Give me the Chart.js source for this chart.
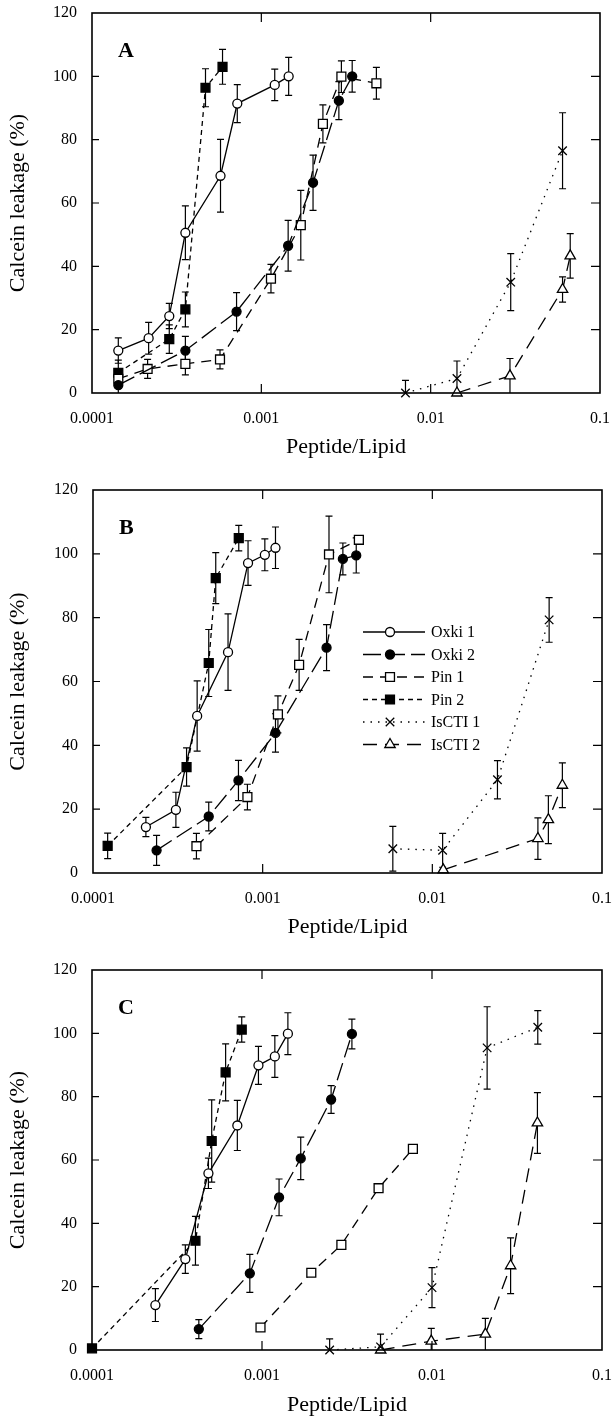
<!DOCTYPE html>
<html>
<head>
<meta charset="utf-8">
<title>Calcein leakage</title>
<script src="https://cdn.jsdelivr.net/npm/chart.js@4.4.1/dist/chart.umd.min.js"></script>
<style>
  body { margin: 0; background: #fff; }
  .panel { position: absolute; left: 0; width: 613px; }
</style>
</head>
<body>
<div class="panel" style="top:0px;height:470px"><canvas id="chartA"></canvas></div>
<div class="panel" style="top:470px;height:480px"><canvas id="chartB"></canvas></div>
<div class="panel" style="top:950px;height:470px"><canvas id="chartC"></canvas></div>
<script>
  const seriesNames = ['Oxki 1', 'Oxki 2', 'Pin 1', 'Pin 2', 'IsCTI 1', 'IsCTI 2'];
  const xTickValues = [0.0001, 0.001, 0.01, 0.1];
  const xTickLabels = ['0.0001', '0.001', '0.01', '0.1'];
  const yInnerTicks = [20, 40, 60, 80, 100];

  // panel A
  const aOxki1X = [0.000143, 0.000216, 0.000286, 0.000356, 0.000574, 0.000721, 0.0012, 0.00145];
  const aOxki1Y = [13.4, 17.3, 24.3, 50.6, 68.6, 91.4, 97.3, 100];
  const aOxki1E = [4, 5, 4, 8.5, 11.5, 6, 5, 6];
  const aOxki2X = [0.000143, 0.000356, 0.000714, 0.00144, 0.00202, 0.00287, 0.00344];
  const aOxki2Y = [2.5, 13.4, 25.7, 46.5, 66.4, 92.3, 100];
  const aOxki2E = [3, 4.5, 6, 8, 8.7, 6, 5];
  const aPin1X = [0.000143, 0.000213, 0.000356, 0.00057, 0.00114, 0.00171, 0.00231, 0.00297, 0.00478];
  const aPin1Y = [4.5, 7.6, 9.2, 10.6, 36.1, 53, 85, 99.9, 97.8];
  const aPin1E = [3, 3, 3.5, 3, 4.5, 11, 6, 5, 5];
  const aPin2X = [0.000143, 0.000286, 0.000356, 0.000468, 0.00059];
  const aPin2Y = [6.4, 17, 26.4, 96.4, 103];
  const aPin2E = [4, 4.5, 5.5, 6, 5.5];
  const aIsc1X = [0.0071, 0.0143, 0.0297, 0.0601];
  const aIsc1Y = [0, 4.6, 35, 76.5];
  const aIsc1E = [4, 5.5, 9, 12];
  const aIsc2X = [0.0143, 0.0294, 0.0601, 0.0667];
  const aIsc2Y = [0, 5.4, 32.7, 43.3];
  const aIsc2E = [0, 5.5, 4, 7];

  // panel B
  const bOxki1X = [0.000205, 0.000308, 0.000411, 0.000625, 0.00082, 0.00103, 0.00119];
  const bOxki1Y = [14.4, 19.8, 49.2, 69.2, 97.1, 99.7, 101.9];
  const bOxki1E = [3, 5.5, 11, 12, 7, 5, 6.5];
  const bOxki2X = [0.000237, 0.000481, 0.00072, 0.00119, 0.00238, 0.00297, 0.00356];
  const bOxki2Y = [7.1, 17.7, 29, 43.9, 70.6, 98.4, 99.5];
  const bOxki2E = [4.7, 4.5, 6.3, 6, 7.2, 5, 5.5];
  const bPin1X = [0.000407, 0.000813, 0.00123, 0.00164, 0.00246, 0.00369];
  const bPin1Y = [8.4, 23.8, 49.7, 65.2, 99.8, 104.4];
  const bPin1E = [4, 4, 5.8, 8, 12, 0];
  const bPin2X = [0.000122, 0.000356, 0.000481, 0.000529, 0.000723];
  const bPin2Y = [8.5, 33.2, 65.8, 92.4, 104.9];
  const bPin2E = [4, 6, 10.5, 8, 4];
  const bIsc1X = [0.00585, 0.0115, 0.0242, 0.0488];
  const bIsc1Y = [7.6, 7.1, 29.2, 79.3];
  const bIsc1E = [7, 5.3, 6, 7];
  const bIsc2X = [0.0116, 0.0419, 0.0483, 0.0584];
  const bIsc2Y = [1, 10.8, 16.7, 27.5];
  const bIsc2E = [0, 6.5, 7.5, 7];

  // panel C
  const cOxki1X = [0.000236, 0.000354, 0.000484, 0.000716, 0.000953, 0.00119, 0.00142];
  const cOxki1Y = [14.2, 28.7, 55.8, 70.9, 89.9, 92.7, 99.9];
  const cOxki1E = [5.2, 4.5, 4.8, 7.9, 6, 6.6, 6.6];
  const cOxki2X = [0.000425, 0.000848, 0.00126, 0.00169, 0.00255, 0.00338];
  const cOxki2Y = [6.6, 24.2, 48.2, 60.5, 79.1, 99.8];
  const cOxki2E = [3, 6, 5.8, 6.7, 4.4, 4.7];
  const cPin1X = [0.00098, 0.00195, 0.00293, 0.00485, 0.00772];
  const cPin1Y = [7.1, 24.4, 33.2, 51.1, 63.5];
  const cPin1E = [0, 0, 0, 0, 0];
  const cPin2X = [0.0001, 0.000406, 0.000506, 0.000611, 0.00076];
  const cPin2Y = [0.5, 34.5, 66, 87.7, 101.2];
  const cPin2E = [0, 7.7, 13, 9, 4];
  const cIsc1X = [0.0025, 0.00498, 0.01, 0.0211, 0.0419];
  const cIsc1Y = [0, 1, 19.7, 95.4, 101.9];
  const cIsc1E = [3.5, 4, 6.3, 13, 5.3];
  const cIsc2X = [0.00499, 0.0099, 0.0206, 0.029, 0.0417];
  const cIsc2Y = [0, 2.8, 5, 26.6, 71.7];
  const cIsc2E = [0, 4, 5, 8.8, 9.6];

  const serif = "'Liberation Serif', 'DejaVu Serif', serif";

  // line / marker look of each series
  const styles = [
    { dash: [], point: 'circle', fill: '#fff', r: 4.5 },
    { dash: [18, 6], point: 'circle', fill: '#000', r: 4.5 },
    { dash: [10, 7], point: 'rect', fill: '#fff', r: 6.3 },
    { dash: [5, 4], point: 'rect', fill: '#000', r: 6.3 },
    { dash: [1.5, 6], point: 'crossRot', fill: '#000', r: 6 },
    { dash: [14, 8], point: 'triangle', fill: '#fff', r: 6 }
  ];

  function makeDatasets(xs, ys, es) {
    return seriesNames.map((name, i) => ({
      label: name,
      data: xs[i].map((x, j) => ({ x: x, y: ys[i][j] })),
      errors: es[i],
      borderColor: '#000',
      borderWidth: 1.3,
      borderDash: styles[i].dash,
      pointStyle: styles[i].point,
      pointRadius: styles[i].r,
      pointBackgroundColor: styles[i].fill,
      pointBorderColor: '#000',
      pointBorderWidth: 1.3,
      fill: false,
      tension: 0,
      clip: false
    }));
  }

  function drawMarker(ctx, st, x, y) {
    const r = st.r;
    ctx.save();
    ctx.setLineDash([]);
    ctx.lineWidth = 1.3;
    ctx.strokeStyle = '#000';
    ctx.fillStyle = st.fill;
    ctx.beginPath();
    if (st.point == 'circle') {
      ctx.arc(x, y, r, 0, Math.PI * 2);
      ctx.fill(); ctx.stroke();
    } else if (st.point == 'rect') {
      const s = r * Math.SQRT1_2;
      ctx.rect(x - s, y - s, 2 * s, 2 * s);
      ctx.fill(); ctx.stroke();
    } else if (st.point == 'triangle') {
      ctx.moveTo(x, y - r);
      ctx.lineTo(x + r * 0.866, y + r / 2);
      ctx.lineTo(x - r * 0.866, y + r / 2);
      ctx.closePath();
      ctx.fill(); ctx.stroke();
    } else {
      const s = r * Math.SQRT1_2;
      ctx.moveTo(x - s, y - s); ctx.lineTo(x + s, y + s);
      ctx.moveTo(x - s, y + s); ctx.lineTo(x + s, y - s);
      ctx.stroke();
    }
    ctx.restore();
  }

  const panelPlugin = {
    id: 'panel',
    beforeDatasetsDraw(chart) {
      // error bars under the markers
      const ctx = chart.ctx, sx = chart.scales.x, sy = chart.scales.y;
      ctx.save();
      ctx.strokeStyle = '#000';
      ctx.lineWidth = 1.2;
      chart.data.datasets.forEach(ds => {
        ds.data.forEach((p, j) => {
          const e = ds.errors[j];
          if (!e) return;
          const px = sx.getPixelForValue(p.x);
          const top = sy.getPixelForValue(p.y + e);
          const low = Math.max(p.y - e, 0);
          const bot = sy.getPixelForValue(low);
          ctx.beginPath();
          ctx.moveTo(px, top); ctx.lineTo(px, bot);
          ctx.moveTo(px - 3.5, top); ctx.lineTo(px + 3.5, top);
          if (low > 0) { ctx.moveTo(px - 3.5, bot); ctx.lineTo(px + 3.5, bot); }
          ctx.stroke();
        });
      });
      ctx.restore();
    },
    afterDraw(chart, args, opts) {
      const ctx = chart.ctx, a = chart.chartArea, sx = chart.scales.x, sy = chart.scales.y;
      ctx.save();
      ctx.strokeStyle = '#000';
      ctx.lineWidth = 1.6;
      ctx.strokeRect(a.left, a.top, a.right - a.left, a.bottom - a.top);
      ctx.lineWidth = 1.2;
      ctx.beginPath();
      xTickValues.slice(1, -1).forEach(v => {
        const px = sx.getPixelForValue(v);
        ctx.moveTo(px, a.bottom); ctx.lineTo(px, a.bottom - 9);
        ctx.moveTo(px, a.top); ctx.lineTo(px, a.top + 9);
      });
      yInnerTicks.forEach(v => {
        const py = sy.getPixelForValue(v);
        ctx.moveTo(a.left, py); ctx.lineTo(a.left + 7, py);
        ctx.moveTo(a.right, py); ctx.lineTo(a.right - 9, py);
      });
      ctx.stroke();
      // panel letter
      ctx.fillStyle = '#000';
      ctx.font = 'bold 22px ' + serif;
      ctx.textBaseline = 'alphabetic';
      ctx.fillText(opts.letter, a.left + 26, a.top + 44);
      // legend inside panel B
      if (opts.legend) {
        const lg = opts.legend;
        ctx.font = '16px ' + serif;
        ctx.textBaseline = 'middle';
        seriesNames.forEach((name, i) => {
          const y = lg.y + i * 22.5;
          ctx.save();
          ctx.lineWidth = 1.3;
          ctx.setLineDash(styles[i].dash);
          ctx.beginPath();
          ctx.moveTo(lg.x, y); ctx.lineTo(lg.x + 62, y);
          ctx.stroke();
          ctx.restore();
          drawMarker(ctx, styles[i], lg.x + 27, y);
          ctx.fillText(name, lg.x + 68, y + 1);
        });
      }
      ctx.restore();
    }
  };

  function makeChart(id, datasets, lay) {
    return new Chart(document.getElementById(id), {
      type: 'line',
      data: { datasets: datasets },
      plugins: [panelPlugin],
      options: {
        responsive: true,
        maintainAspectRatio: false,
        animation: false,
        events: [],
        devicePixelRatio: 1,
        layout: { padding: { top: lay.top, right: lay.right, left: 0, bottom: 0 } },
        plugins: {
          legend: { display: false },
          tooltip: { enabled: false },
          panel: { letter: lay.letter, legend: lay.legend }
        },
        scales: {
          x: {
            type: 'logarithmic',
            min: 0.0001,
            max: 0.1,
            afterBuildTicks: s => { s.ticks = xTickValues.map(v => ({ value: v })); },
            afterFit: s => {
              s.height = lay.xHeight;
              s.paddingLeft = 0;
              s.paddingRight = 0;
            },
            grid: { display: false, drawTicks: false },
            border: { display: false },
            ticks: {
              autoSkip: false,
              maxRotation: 0,
              padding: 16,
              color: '#000',
              font: { family: serif, size: 16 },
              callback: (v, i) => xTickLabels[i]
            },
            title: {
              display: true,
              text: 'Peptide/Lipid',
              color: '#000',
              font: { family: serif, size: 22 },
              padding: { top: 0, bottom: lay.titlePad }
            }
          },
          y: {
            min: 0,
            max: 120,
            afterFit: s => {
              s.width = lay.left;
              s.paddingTop = 0;
              s.paddingBottom = 0;
            },
            grid: { display: false, drawTicks: false },
            border: { display: false },
            ticks: {
              stepSize: 20,
              padding: 15,
              color: '#000',
              font: { family: serif, size: 16 }
            },
            title: {
              display: true,
              text: 'Calcein leakage (%)',
              color: '#000',
              font: { family: serif, size: 22 },
              padding: { top: 5, bottom: 0 }
            }
          }
        }
      }
    });
  }

  makeChart('chartA',
    makeDatasets([aOxki1X, aOxki2X, aPin1X, aPin2X, aIsc1X, aIsc2X],
                 [aOxki1Y, aOxki2Y, aPin1Y, aPin2Y, aIsc1Y, aIsc2Y],
                 [aOxki1E, aOxki2E, aPin1E, aPin2E, aIsc1E, aIsc2E]),
    { letter: 'A', top: 13, right: 13, left: 92, xHeight: 77, titlePad: 10 });

  makeChart('chartB',
    makeDatasets([bOxki1X, bOxki2X, bPin1X, bPin2X, bIsc1X, bIsc2X],
                 [bOxki1Y, bOxki2Y, bPin1Y, bPin2Y, bIsc1Y, bIsc2Y],
                 [bOxki1E, bOxki2E, bPin1E, bPin2E, bIsc1E, bIsc2E]),
    { letter: 'B', top: 20, right: 11, left: 93, xHeight: 77, titlePad: 10,
      legend: { x: 363, y: 162 } });

  makeChart('chartC',
    makeDatasets([cOxki1X, cOxki2X, cPin1X, cPin2X, cIsc1X, cIsc2X],
                 [cOxki1Y, cOxki2Y, cPin1Y, cPin2Y, cIsc1Y, cIsc2Y],
                 [cOxki1E, cOxki2E, cPin1E, cPin2E, cIsc1E, cIsc2E]),
    { letter: 'C', top: 20, right: 11, left: 92, xHeight: 70, titlePad: 2 });
</script>
</body>
</html>
